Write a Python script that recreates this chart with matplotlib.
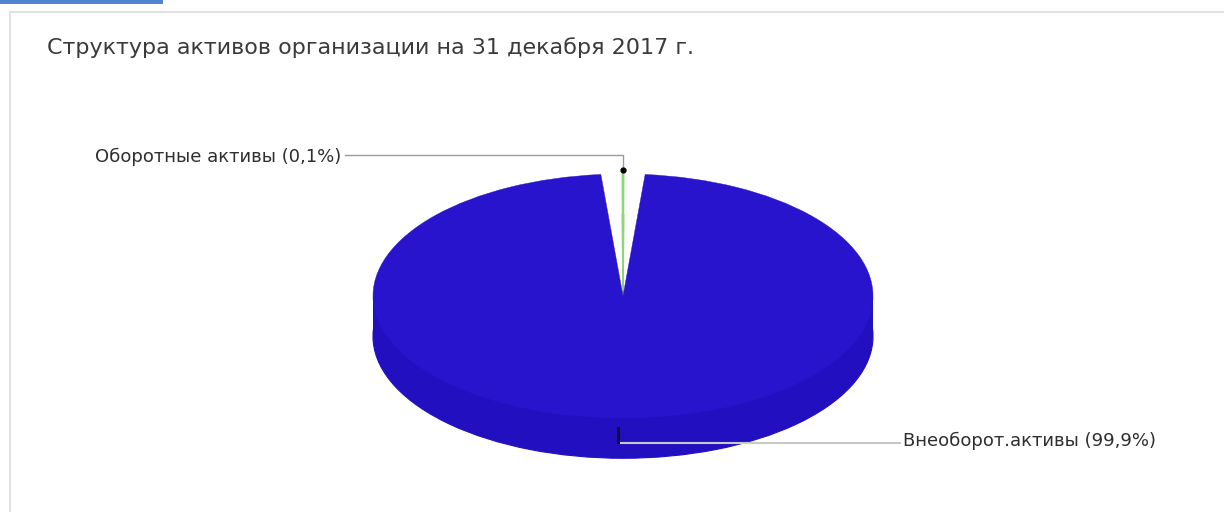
import matplotlib
matplotlib.use("Agg")
import matplotlib.pyplot as plt
from matplotlib.patches import Wedge, Rectangle
import numpy as np

# ---- data ----
title = "Структура активов организации на 31 декабря 2017 г."
categories = ["Оборотные активы", "Внеоборот.активы"]
shares = [0.1, 99.9]          # percent
label_texts = ["Оборотные активы (0,1%)", "Внеоборот.активы (99,9%)"]

# ---- style ----
colors_top = ["#8fd67a", "#2814cc"]
colors_side = ["#7cc068", "#2210c0"]
GAP_DEG = 4.9          # visual padding around the tiny slice
DEPTH = 0.33           # pie thickness in data units
START = 90.0           # first slice centred at top
MARGIN = 0.05

W, H = 1224, 512
fig = plt.figure(figsize=(W / 100, H / 100), dpi=100)
fig.patch.set_facecolor("white")

# overlay axes in pixel coordinates
ov = fig.add_axes([0, 0, 1, 1])
ov.set_xlim(0, W)
ov.set_ylim(H, 0)
ov.axis("off")
ov.add_patch(Rectangle((0, 0), 163, 3.5, color="#4f86cf", lw=0))
ov.plot([10, W], [12, 12], color="#e2e2e2", lw=1.5)
ov.plot([10, 10], [12, H], color="#e2e2e2", lw=1.5)
ov.text(47, 48, title, fontsize=16, color="#3a3a3a", va="center", ha="left",
        family="DejaVu Sans")

# pie axes: unit circle maps to ellipse 500 x 244 px
cx, cy, a, b = 623, 296, 250, 122
ylo, yhi = -1 - DEPTH - MARGIN, 1.0 + MARGIN
xlo, xhi = -1 - MARGIN, 1 + MARGIN
px_left = cx + a * xlo
px_right = cx + a * xhi
px_top = cy - b * yhi
px_bot = cy - b * ylo
ax = fig.add_axes([px_left / W, (H - px_bot) / H, (px_right - px_left) / W,
                   (px_bot - px_top) / H])
ax.set_xlim(xlo, xhi)
ax.set_ylim(ylo, yhi)
ax.axis("off")
ax.patch.set_alpha(0)

total = sum(shares)
angles = []
theta = START - shares[0] / total * 360 / 2
for v in shares:
    span = v / total * 360
    angles.append((theta, theta + span))
    theta += span


def spans(i):
    t1, t2 = angles[i]
    if i == 1:
        return t1 + GAP_DEG, t2 - GAP_DEG
    return t1, t2

# side (bottom copy + band)
for i in range(len(shares)):
    t1, t2 = spans(i)
    ax.add_patch(Wedge((0, -DEPTH), 1, t1, t2, facecolor=colors_side[i],
                       edgecolor=colors_side[i], lw=0.8, zorder=1))
ax.add_patch(Rectangle((-1, -DEPTH), 2, DEPTH, facecolor=colors_side[1],
                       edgecolor="none", zorder=1))
# top face
for i in range(len(shares)):
    t1, t2 = spans(i)
    ax.add_patch(Wedge((0, 0), 1, t1, t2, facecolor=colors_top[i],
                       edgecolor=colors_top[i], lw=1.0 if i == 0 else 0.3, zorder=2))

# leader lines and labels
mid0 = np.deg2rad(np.mean(angles[0]))
x0 = cx + a * np.cos(mid0)
y0 = cy - b * np.sin(mid0)
ov.plot([345, x0, x0], [155, 155, y0 - 4], color="#9a9a9a", lw=1, zorder=5)
ov.plot([x0], [y0 - 4], marker="o", ms=3.5, color="black", zorder=6)
ov.text(95, 157, label_texts[0], fontsize=13, color="#2e2e2e", va="center", ha="left",
        family="DejaVu Sans")

xb = cx - 5
ov.plot([xb, 900], [443, 443], color="#c8c8c8", lw=1.5, zorder=0)
ax.set_zorder(1)
ov.set_zorder(2)
ov.patch.set_alpha(0)
ov.plot([xb, xb], [428, 442], color="#101030", lw=2.2, zorder=6)
ov.text(903, 441, label_texts[1], fontsize=13, color="#2e2e2e", va="center", ha="left",
        family="DejaVu Sans")

fig.savefig("out.png", dpi=100, facecolor="white")
